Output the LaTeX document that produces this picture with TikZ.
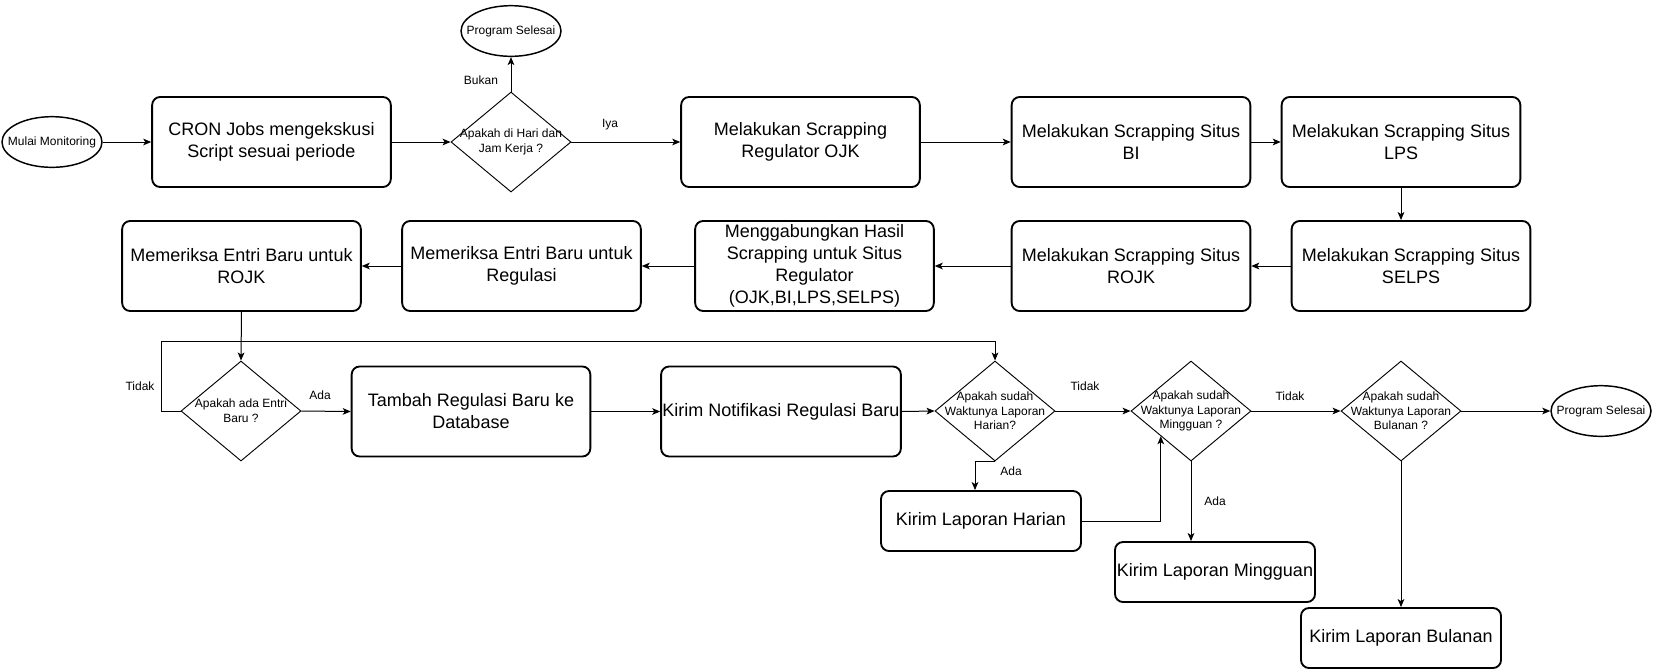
\documentclass[tikz,border=0pt]{standalone}
\usepackage{fontspec}
\setmainfont{Liberation Sans}
\usetikzlibrary{shapes.geometric,arrows.meta}
\begin{document}
\begin{tikzpicture}[x=0.75pt,y=-0.75pt,
  box/.style={draw, line width=1.4pt, rounded corners=6pt, minimum width=179pt, minimum height=67.5pt, inner sep=1pt, align=center, font=\fontsize{13.5pt}{16.5pt}\selectfont},
  sbox/.style={box, minimum width=150pt, minimum height=45pt},
  dia/.style={draw, line width=0.7pt, diamond, minimum width=90pt, minimum height=75pt, inner sep=0pt},
  dtext/.style={align=center, inner sep=0pt, font=\fontsize{9pt}{11pt}\selectfont},
  term/.style={draw, line width=1.1pt, ellipse, minimum width=75pt, minimum height=38pt, inner sep=0pt},
  lbl/.style={inner sep=0pt, font=\fontsize{9pt}{11pt}\selectfont},
  arr/.style={line width=0.75pt, -{Stealth[length=6pt,width=5pt,inset=1.5pt]}}
]
\useasboundingbox (0,0) rectangle (1653,669);
% row 1
\node[term] (mulai) at (52,142) {};
\node[dtext] (mulait) at (mulai) {Mulai Monitoring};
\node[box] (cron) at (271.5,142) {CRON Jobs mengekskusi\\Script sesuai periode};
\node[dia] (d1) at (511,142) {};
\node[dtext] (d1t) at (d1) {Apakah di Hari dan\\Jam Kerja ?};
\node[term] (ps1) at (511,31) {};
\node[dtext] (ps1t) at (ps1) {Program Selesai};
\node[box] (ojk) at (800.5,142) {Melakukan Scrapping\\Regulator OJK};
\node[box] (bi) at (1131,142) {Melakukan Scrapping Situs\\BI};
\node[box] (lps) at (1401,142) {Melakukan Scrapping Situs\\LPS};
% row 2
\node[box] (selps) at (1411,266) {Melakukan Scrapping Situs\\SELPS};
\node[box] (rojks) at (1131,266) {Melakukan Scrapping Situs\\ROJK};
\node[box] (gab) at (814.5,266) {Menggabungkan Hasil\\Scrapping untuk Situs\\Regulator\\(OJK,BI,LPS,SELPS)};
\node[box] (cekreg) at (521.5,266) {Memeriksa Entri Baru untuk\\Regulasi};
\node[box] (cekrojk) at (241.5,266) {Memeriksa Entri Baru untuk\\ROJK};
% row 3
\node[dia] (d2) at (241,411) {};
\node[dtext] (d2t) at (d2) {Apakah ada Entri\\Baru ?};
\node[box] (tambah) at (471,411.5) {Tambah Regulasi Baru ke\\Database};
\node[box] (notif) at (781,411.5) {Kirim Notifikasi Regulasi Baru};
\node[dia] (dh) at (995,411) {};
\node[dtext] (dht) at (dh) {Apakah sudah\\Waktunya Laporan\\Harian?};
\node[dia] (dm) at (1191,411) {};
\node[dtext] (dmt) at (dm) {Apakah sudah\\Waktunya Laporan\\Mingguan ?};
\node[dia] (db) at (1401,411) {};
\node[dtext] (dbt) at (db) {Apakah sudah\\Waktunya Laporan\\Bulanan ?};
\node[term] (ps2) at (1601,411) {};
\node[dtext] (ps2t) at (ps2) {Program Selesai};
\node[sbox] (lh) at (981,521) {Kirim Laporan Harian};
\node[sbox] (lm) at (1215,572) {Kirim Laporan Mingguan};
\node[sbox] (lb) at (1401,638) {Kirim Laporan Bulanan};
% labels
\node[lbl] (lbukan) at (481,80) {Bukan};
\node[lbl] (liya) at (610,125) {Iya};
\node[lbl] (ltidak1) at (140,386) {Tidak};
\node[lbl] (lada1) at (320,395) {Ada};
\node[lbl] (ltidak2) at (1085,386) {Tidak};
\node[lbl] (lada2) at (1011,471) {Ada};
\node[lbl] (ltidak3) at (1290,396) {Tidak};
\node[lbl] (lada3) at (1215,501) {Ada};
\coordinate (loopL) at (161,341.5);
% connectors
\draw[arr] (mulai.east) -- (cron.west);
\draw[arr] (cron.east) -- (d1.west);
\draw[arr] (d1.north) -- (ps1.south);
\draw[arr] (d1.east) -- (ojk.west);
\draw[arr] (ojk.east) -- (bi.west);
\draw[arr] (bi.east) -- (lps.west);
\draw[arr] (lps.south) -- (lps.south |- selps.north);
\draw[arr] (selps.west) -- (rojks.east);
\draw[arr] (rojks.west) -- (gab.east);
\draw[arr] (gab.west) -- (cekreg.east);
\draw[arr] (cekreg.west) -- (cekrojk.east);
\draw[arr] (cekrojk.south) -- (d2.north);
\draw[arr] (d2.west) -- (d2.west -| loopL) -- (loopL) -| (dh.north);
\draw[arr] (d2.east) -- (tambah.west);
\draw[arr] (tambah.east) -- (notif.west);
\draw[arr] (notif.east) -- (dh.west);
\draw[arr] (dh.east) -- (dm.west);
\draw[arr] (dh.south) -| ([xshift=-4.5pt]lh.north);
\draw[arr] (lh.east) -| (dm.south west);
\draw[arr] (dm.south) -- (dm.south |- lm.north);
\draw[arr] (dm.east) -- (db.west);
\draw[arr] (db.south) -- (lb.north);
\draw[arr] (db.east) -- (ps2.west);
\end{tikzpicture}
\end{document}
